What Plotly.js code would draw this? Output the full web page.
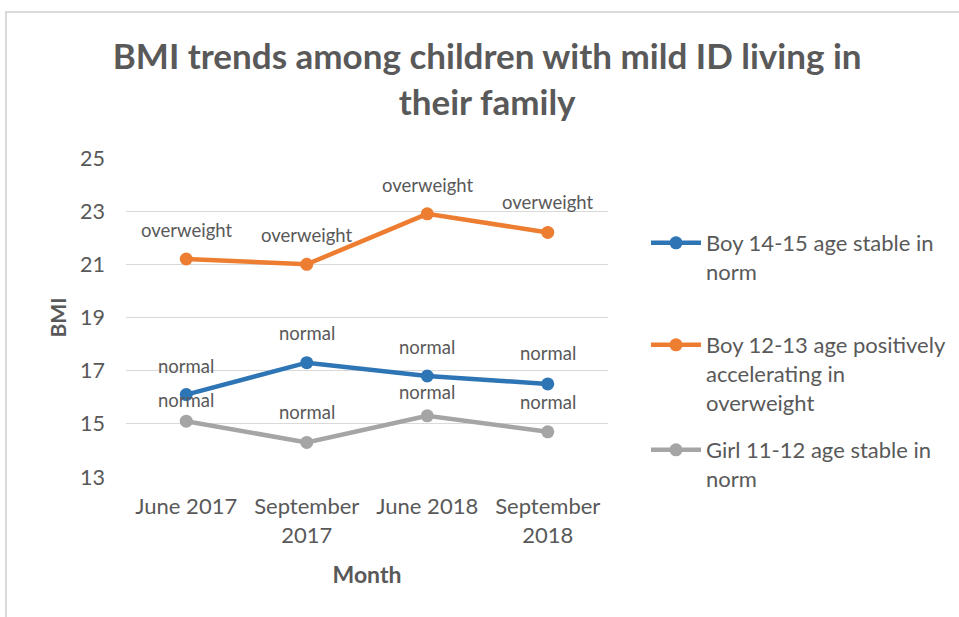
<!DOCTYPE html>
<html>
<head>
<meta charset="utf-8">
<script src="https://cdn.plot.ly/plotly-3.0.1.min.js"></script>
<style>
  html, body { margin: 0; padding: 0; background: #fff; }
  #frame { position: absolute; left: 5px; top: 11px; width: 1000px; height: 700px;
           border-top: 2px solid #d9d9d9; border-left: 2px solid #d9d9d9; }
  #chart { position: absolute; left: 0; top: 0; width: 959px; height: 617px; }
</style>
</head>
<body>
<div id="frame"></div>
<div id="chart"></div>
<script>
const months = ["June 2017", "September 2017", "June 2018", "September 2018"];
const monthTickText = ["June 2017", "September<br>2017", "June 2018", "September<br>2018"];
const seriesNames = [
  "Boy 14-15 age stable in<br>norm",
  "Boy 12-13 age positively<br>accelerating in<br>overweight",
  "Girl 11-12 age stable in<br>norm"
];
const boy1415 = [16.1, 17.3, 16.8, 16.5];
const boy1213 = [21.2, 21.0, 22.9, 22.2];
const girl1112 = [15.1, 14.3, 15.3, 14.7];
const boy1415Labels = ["normal", "normal", "normal", "normal"];
const boy1213Labels = ["overweight", "overweight", "overweight", "overweight"];
const girl1112Labels = ["normal", "normal", "normal", "normal"];
const yTicks = [13, 15, 17, 19, 21, 23, 25];

const colors = ["#2E75B6", "#ED7D31", "#A5A5A5"];
const textColor = "#595959";
const fontFam = "Lato, 'Open Sans', sans-serif";

const allValues = [boy1415, boy1213, girl1112];
const allLabels = [boy1415Labels, boy1213Labels, girl1112Labels];
const legendIds = ["legend", "legend2", "legend3"];

const traces = allValues.map((vals, i) => ({
  type: "scatter",
  mode: "lines+markers",
  x: months,
  y: vals,
  name: seriesNames[i],
  legend: legendIds[i],
  line: { color: colors[i], width: 4.5 },
  marker: { color: colors[i], size: 13 },
  hoverinfo: "x+y"
}));

// label offsets (pixels above the point)
const shifts = [
  [29, 30, 29, 31],
  [29, 29, 29, 30],
  [21, 30, 24, 30]
];
const annotations = [];
allValues.forEach((vals, i) => {
  vals.forEach((v, j) => {
    annotations.push({
      x: months[j], y: v, xref: "x", yref: "y",
      text: allLabels[i][j], showarrow: false,
      yshift: shifts[i][j],
      font: { family: fontFam, size: 18.5, color: textColor }
    });
  });
});

const legendBase = {
  xref: "container", yref: "container",
  xanchor: "left", yanchor: "top",
  bgcolor: "rgba(0,0,0,0)",
  font: { family: fontFam, size: 22, color: textColor },
  valign: "top",
  itemwidth: 50
};

const layout = {
  width: 959, height: 617,
  paper_bgcolor: "rgba(0,0,0,0)",
  plot_bgcolor: "rgba(0,0,0,0)",
  margin: { l: 126, r: 351, t: 158, b: 140 },
  title: {
    text: "BMI trends among children with mild ID living in<br>their family",
    font: { family: fontFam, size: 35, color: textColor, weight: "bold" },
    xref: "container", x: 0.508, xanchor: "center",
    yref: "container", y: 1 - 69 / 617, yanchor: "top"
  },
  xaxis: {
    type: "category",
    categoryorder: "array", categoryarray: months,
    tickvals: months, ticktext: monthTickText,
    range: [-0.5, 3.5],
    showgrid: false, zeroline: false, showline: false, ticks: "",
    tickfont: { family: fontFam, size: 22, color: textColor },
    ticklabelstandoff: 14,
    title: { text: "Month", font: { family: fontFam, size: 23, color: textColor, weight: "bold" }, standoff: 20 }
  },
  yaxis: {
    range: [13, 25],
    tickvals: yTicks,
    showgrid: true, gridcolor: "#D9D9D9", gridwidth: 1,
    zeroline: false, showline: false, ticks: "",
    tickfont: { family: fontFam, size: 21.5, color: textColor },
    ticklabelstandoff: 20,
    title: { text: "BMI", font: { family: fontFam, size: 21, color: textColor, weight: "bold" }, standoff: 7 }
  },
  legend: Object.assign({}, legendBase, { x: 646 / 959, y: 1 - 222 / 617 }),
  legend2: Object.assign({}, legendBase, { x: 646 / 959, y: 1 - 324 / 617 }),
  legend3: Object.assign({}, legendBase, { x: 646 / 959, y: 1 - 429 / 617 }),
  annotations: annotations,
  showlegend: true
};

Plotly.newPlot("chart", traces, layout, { displayModeBar: false, staticPlot: true });
</script>
</body>
</html>
